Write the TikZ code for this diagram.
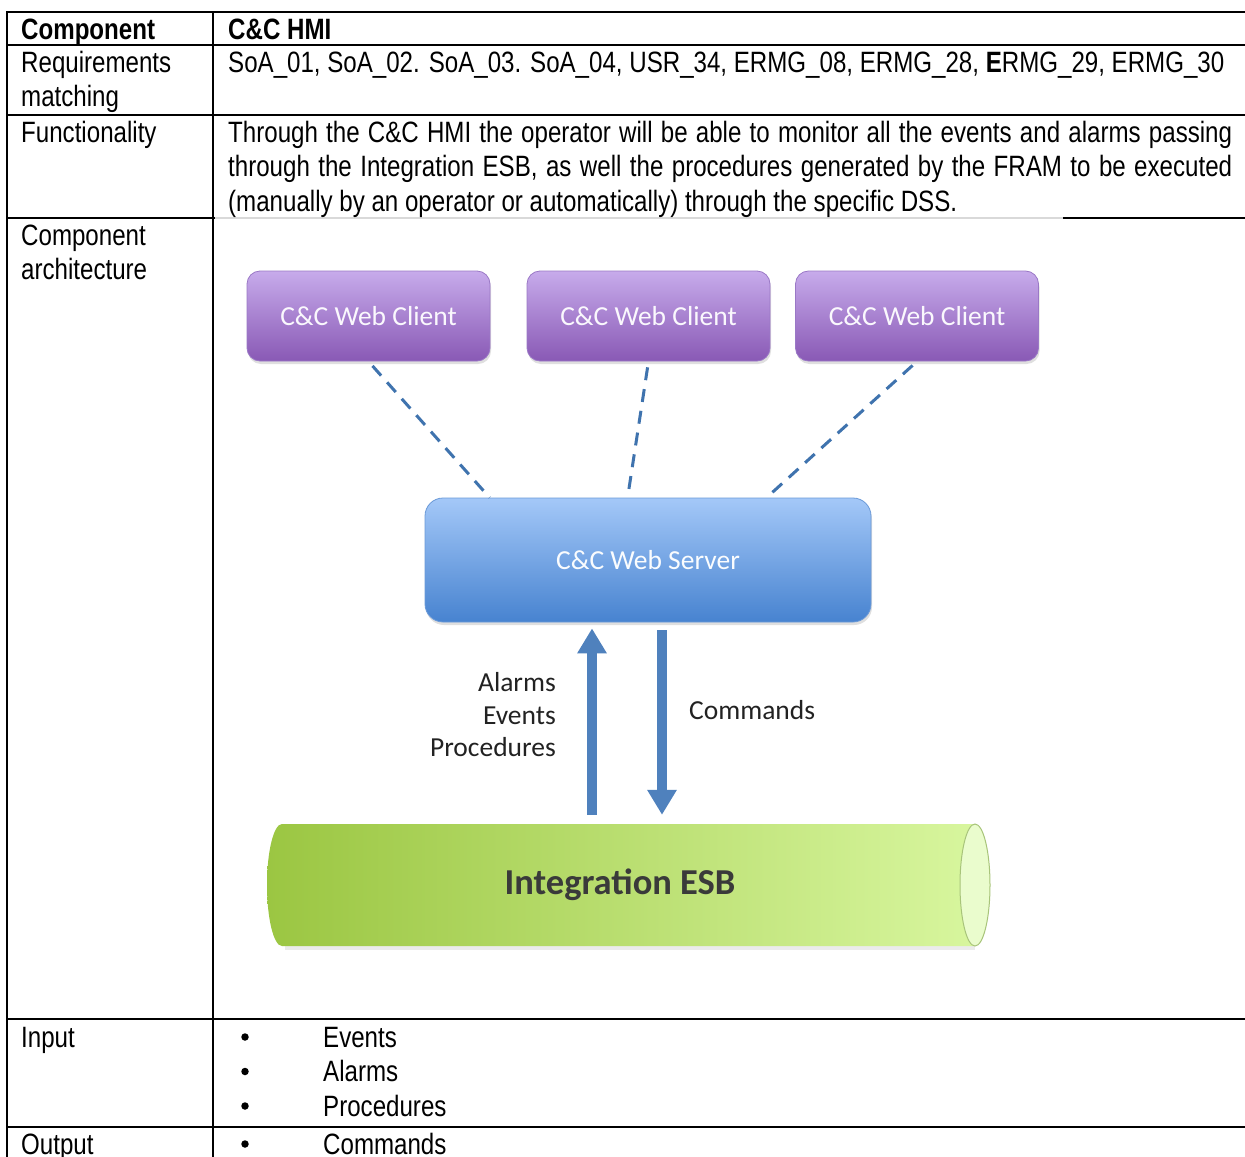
\documentclass[tikz,border=0pt]{standalone}
\usepackage{fontspec}
\setmainfont{Liberation Sans}[FakeStretch=0.82]
\newfontfamily\calfont{Carlito}
\usetikzlibrary{arrows.meta,calc,shadows}

\definecolor{clienttop}{HTML}{C7ABEB}
\definecolor{clientbot}{HTML}{8959B5}
\definecolor{clientedge}{HTML}{9A78C6}
\definecolor{servertop}{HTML}{A4C8F8}
\definecolor{serverbot}{HTML}{4783D0}
\definecolor{serveredge}{HTML}{6B9AD8}
\definecolor{linkblue}{HTML}{3F73AE}
\definecolor{flowblue}{HTML}{4F81BD}
\definecolor{esbdark}{HTML}{9BC642}
\definecolor{esblight}{HTML}{D9F7A0}
\definecolor{esbface}{HTML}{EAFCCD}
\definecolor{esbedge}{HTML}{A8C47A}
\definecolor{labelgray}{HTML}{222222}
\definecolor{esbtext}{HTML}{3A3A3A}

\newcommand\tabtext{\fontsize{29.4bp}{34.5bp}\selectfont}
\newcommand\figtext{\calfont\fontsize{27.5bp}{32.5bp}\selectfont}

\begin{document}
\begin{tikzpicture}[x=1bp,y=-1bp,
  tblrule/.style={line width=2.6bp, line cap=rect},
  cell/.style={anchor=base west, inner sep=0pt, font=\tabtext},
  bulletdot/.style={circle, fill=black, inner sep=0pt, minimum size=7.5bp},
  clientbox/.style={rectangle, rounded corners=13bp, minimum width=243bp,
    minimum height=90bp, top color=clienttop, bottom color=clientbot,
    draw=clientedge, line width=0.8bp, text=white!92!clienttop,
    font=\figtext,
    drop shadow={opacity=0.25, shadow xshift=1bp, shadow yshift=-3bp}},
  serverbox/.style={rectangle, rounded corners=18bp, minimum width=446bp,
    minimum height=124bp, top color=servertop, bottom color=serverbot,
    draw=serveredge, line width=0.8bp, text=white!94!servertop,
    font=\figtext,
    drop shadow={opacity=0.25, shadow xshift=1bp, shadow yshift=-3bp}},
  weblink/.style={draw=linkblue, line width=3bp, dash pattern=on 13bp off 9bp,
    shorten <=6bp},
  flowarrow/.style={draw=flowblue, line width=10bp,
    -{Triangle[width=28bp,length=25bp]}},
  figlabel/.style={font=\figtext, text=labelgray, inner sep=0pt}
]
\useasboundingbox (0,0) rectangle (1245,1157);
\fill[white] (0,0) rectangle (1245,1157);

% ---- table grid ----
\draw[tblrule] (7,12) -- (1245,12);
\draw[tblrule] (7,45) -- (1245,45);
\draw[tblrule] (7,115) -- (1245,115);
\draw[tblrule] (7,218) -- (215,218);
\draw[gray!30, line width=1.2bp] (215,218) -- (1064,218);
\draw[tblrule] (1064,218) -- (1245,218);
\draw[tblrule] (7,1019) -- (1245,1019);
\draw[tblrule] (7,1127) -- (1245,1127);
\draw[tblrule] (7,12) -- (7,1157);
\draw[tblrule] (213,12) -- (213,1157);

% ---- table texts ----
\node[cell] (hdrA) at (21,39) {\bfseries Component};
\node[cell] (hdrB) at (228,39) {\bfseries C\&C HMI};

\node[cell] (reqA1) at (21,72) {Requirements};
\node[cell] (reqA2) at (21,106.5) {matching};
\node[cell] (reqB) at (228,72) {SoA\_01, SoA\_02. SoA\_03. SoA\_04, USR\_34, ERMG\_08, ERMG\_28, \textbf{E}RMG\_29, ERMG\_30};

\node[cell] (funA) at (21,142) {Functionality};
\node[cell] (funB1) at (228,142) {\hbox to 1004bp{Through the C\&C HMI the operator will be able to monitor all the events and alarms passing}};
\node[cell] (funB2) at (228,176.5) {\hbox to 1004bp{through the Integration ESB, as well the procedures generated by the FRAM to be executed}};
\node[cell] (funB3) at (228,211) {(manually by an operator or automatically) through the specific DSS.};

\node[cell] (archA1) at (21,245) {Component};
\node[cell] (archA2) at (21,279.5) {architecture};

\node[cell] (inA) at (21,1047) {Input};
\node[bulletdot] (inD1) at (245,1037) {};
\node[cell] (inB1) at (323,1047) {Events};
\node[bulletdot] (inD2) at (245,1071.5) {};
\node[cell] (inB2) at (323,1081.5) {Alarms};
\node[bulletdot] (inD3) at (245,1106) {};
\node[cell] (inB3) at (323,1116) {Procedures};

\node[cell] (outA) at (21,1154) {Output};
\node[bulletdot] (outD1) at (245,1144) {};
\node[cell] (outB1) at (323,1154) {Commands};

% ---- architecture figure ----
\node[clientbox] (c1) at (368.5,316) {C\&C Web Client};
\node[clientbox] (c2) at (648.5,316) {C\&C Web Client};
\node[clientbox] (c3) at (917,316) {C\&C Web Client};
\node[serverbox] (srv) at (648,560) {C\&C Web Server};

\draw[weblink] (c1.south) -- ($(srv.north west)+(65,0)$);
\draw[weblink] (c2.south) -- ($(srv.north west)+(203,0)$);
\draw[weblink] (c3.south) -- ($(srv.north west)+(342,0)$);

% enterprise service bus drawn as a horizontal cylinder
\node[minimum width=723bp, minimum height=122bp, inner sep=0pt] (esb) at (628.5,885) {};
\fill[black, opacity=0.08] (285,944) -- (975,944) -- (975,950) -- (285,950) -- cycle;
\shade[left color=esbdark, right color=esblight]
  (282,824) -- (975,824)
  .. controls (983.3,824) and (990,851.3) .. (990,885)
  .. controls (990,918.7) and (983.3,946) .. (975,946)
  -- (282,946)
  .. controls (273.7,946) and (267,918.7) .. (267,885)
  .. controls (267,851.3) and (273.7,824) .. (282,824) -- cycle;
\draw[esbedge, line width=1bp, fill=esbface] (975,885) ellipse [x radius=15, y radius=61];
\node[font=\calfont\bfseries\fontsize{36.5bp}{40bp}\selectfont, text=esbtext, inner sep=0pt] (esbl) at (620,885) {Integration ESB};

\coordinate (upx) at (592,0);
\coordinate (dnx) at (662,0);
\draw[flowarrow, shorten <=9bp, shorten >=6bp] (upx |- esb.north) -- (upx |- srv.south);
\draw[flowarrow, shorten <=8bp, shorten >=9bp] (dnx |- srv.south) -- (dnx |- esb.north);

\node[figlabel, anchor=east, align=right] (inflow) at (556,715) {Alarms\\Events\\Procedures};
\node[figlabel, anchor=west] (outflow) at (689,710) {Commands};
\end{tikzpicture}
\end{document}
